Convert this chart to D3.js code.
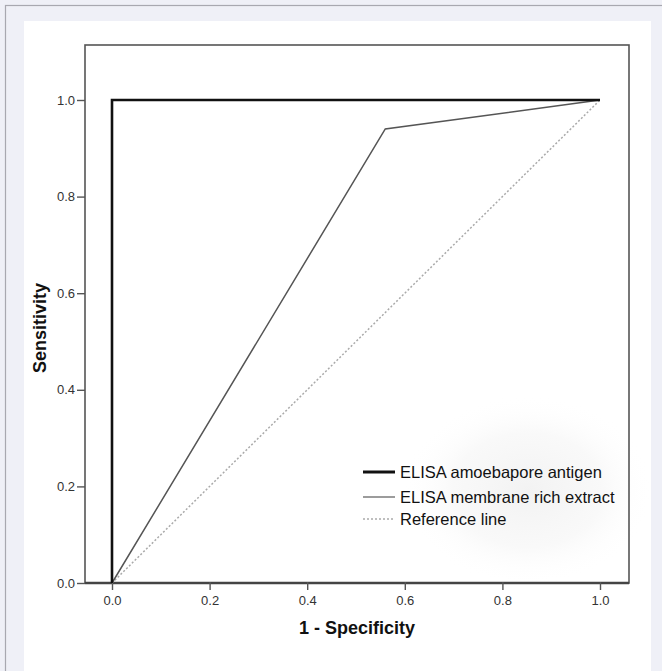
<!DOCTYPE html>
<html>
<head>
<meta charset="utf-8">
<script src="https://cdn.jsdelivr.net/npm/d3@7"></script>
<style>
  html, body { margin: 0; padding: 0; background: #eff0f7; }
  svg { display: block; font-family: "Liberation Sans", Arial, sans-serif; }
</style>
</head>
<body>
<script>
// ROC curve data
var amoebaporeX = [0, 0, 1],
    amoebaporeY = [0, 1, 1];
var membraneX = [0, 0.56, 1],
    membraneY = [0, 0.94, 1];
var referenceX = [0, 1],
    referenceY = [0, 1];
var tickValues = [0, 0.2, 0.4, 0.6, 0.8, 1.0];
var tickLabels = ["0.0", "0.2", "0.4", "0.6", "0.8", "1.0"];
var legendLabels = ["ELISA amoebapore antigen", "ELISA membrane rich extract", "Reference line"];

var width = 662,
    height = 671;

// plot frame
var frameLeft = 85, frameRight = 629, frameTop = 45, frameBottom = 583;

var x = d3.scaleLinear().domain([0, 1]).range([112, 600]);
var y = d3.scaleLinear().domain([0, 1]).range([frameBottom, 100]);

var svg = d3.select("body").append("svg")
    .attr("width", width)
    .attr("height", height);

// page background + border + white panel
svg.append("rect")
    .attr("x", 0).attr("y", 0)
    .attr("width", width).attr("height", height)
    .attr("fill", "#eff0f7");
svg.append("rect")
    .attr("x", 5.5).attr("y", 5.5)
    .attr("width", width + 10).attr("height", height + 10)
    .attr("fill", "none")
    .attr("stroke", "#a8a8b0")
    .attr("stroke-width", 1.2);
svg.append("rect")
    .attr("x", 24).attr("y", 21)
    .attr("width", 627).attr("height", height - 21)
    .attr("fill", "#ffffff");

// faint shading behind legend
var defs = svg.append("defs");
var grad = defs.append("radialGradient").attr("id", "shade");
grad.append("stop").attr("offset", "0%").attr("stop-color", "#efefef").attr("stop-opacity", 0.8);
grad.append("stop").attr("offset", "60%").attr("stop-color", "#f5f5f5").attr("stop-opacity", 0.6);
grad.append("stop").attr("offset", "100%").attr("stop-color", "#ffffff").attr("stop-opacity", 0);
svg.append("ellipse")
    .attr("cx", 528).attr("cy", 490)
    .attr("rx", 125).attr("ry", 95)
    .attr("fill", "url(#shade)");

// frame
svg.append("rect")
    .attr("x", frameLeft).attr("y", frameTop)
    .attr("width", frameRight - frameLeft).attr("height", frameBottom - frameTop)
    .attr("fill", "none")
    .attr("stroke", "#555")
    .attr("stroke-width", 1.6);

// x axis line (thicker)
svg.append("line")
    .attr("x1", frameLeft).attr("x2", frameRight)
    .attr("y1", frameBottom).attr("y2", frameBottom)
    .attr("stroke", "#444")
    .attr("stroke-width", 2.4);

// y axis
var yAxis = d3.axisLeft(y)
    .tickValues(tickValues)
    .tickFormat(function (d, i) { return tickLabels[i]; })
    .tickSize(8)
    .tickPadding(2);
var gy = svg.append("g")
    .attr("transform", "translate(" + frameLeft + ",0)")
    .call(yAxis);
gy.select(".domain").remove();
gy.selectAll(".tick line").attr("stroke", "#555").attr("stroke-width", 1.4);
gy.selectAll(".tick text")
    .attr("fill", "#333")
    .style("font-size", "13px")
    .style("font-family", "Liberation Sans, Arial, sans-serif");

// x axis
var xAxis = d3.axisBottom(x)
    .tickValues(tickValues)
    .tickFormat(function (d, i) { return tickLabels[i]; })
    .tickSize(8)
    .tickPadding(6);
var gx = svg.append("g")
    .attr("transform", "translate(0," + (frameBottom - 1) + ")")
    .call(xAxis);
gx.select(".domain").remove();
gx.selectAll(".tick line").attr("stroke", "#555").attr("stroke-width", 1.4);
gx.selectAll(".tick text")
    .attr("fill", "#333")
    .style("font-size", "13px")
    .style("font-family", "Liberation Sans, Arial, sans-serif");

// axis titles
svg.append("text")
    .attr("x", 357).attr("y", 634)
    .attr("text-anchor", "middle")
    .style("font-size", "18px")
    .style("font-weight", "bold")
    .attr("fill", "#111")
    .text("1 - Specificity");

svg.append("text")
    .attr("transform", "translate(46,328) rotate(-90)")
    .attr("text-anchor", "middle")
    .style("font-size", "18px")
    .style("font-weight", "bold")
    .attr("fill", "#111")
    .text("Sensitivity");

// lines
var line = d3.line()
    .x(function (d) { return x(d[0]); })
    .y(function (d) { return y(d[1]); });

function zipXY(xs, ys) {
    return xs.map(function (v, i) { return [v, ys[i]]; });
}

svg.append("path")
    .datum(zipXY(referenceX, referenceY))
    .attr("d", line)
    .attr("fill", "none")
    .attr("stroke", "#aaa")
    .attr("stroke-width", 1.5)
    .attr("stroke-dasharray", "2,2");

svg.append("path")
    .datum(zipXY(membraneX, membraneY))
    .attr("d", line)
    .attr("fill", "none")
    .attr("stroke", "#555")
    .attr("stroke-width", 1.5);

svg.append("path")
    .datum(zipXY(amoebaporeX, amoebaporeY))
    .attr("d", line)
    .attr("fill", "none")
    .attr("stroke", "#111")
    .attr("stroke-width", 2.6);

// legend
var legendStyles = [
    {stroke: "#111", width: 3, dash: null},
    {stroke: "#666", width: 1.3, dash: null},
    {stroke: "#aaa", width: 1.3, dash: "2,2"}
];
var legendY = [472, 497, 519];

var legend = svg.append("g");
legendLabels.forEach(function (label, i) {
    legend.append("line")
        .attr("x1", 363).attr("x2", 395)
        .attr("y1", legendY[i]).attr("y2", legendY[i])
        .attr("stroke", legendStyles[i].stroke)
        .attr("stroke-width", legendStyles[i].width)
        .attr("stroke-dasharray", legendStyles[i].dash);
    legend.append("text")
        .attr("x", 400).attr("y", legendY[i])
        .attr("dy", "0.36em")
        .style("font-size", "16.5px")
        .attr("fill", "#111")
        .text(label);
});
</script>
</body>
</html>
